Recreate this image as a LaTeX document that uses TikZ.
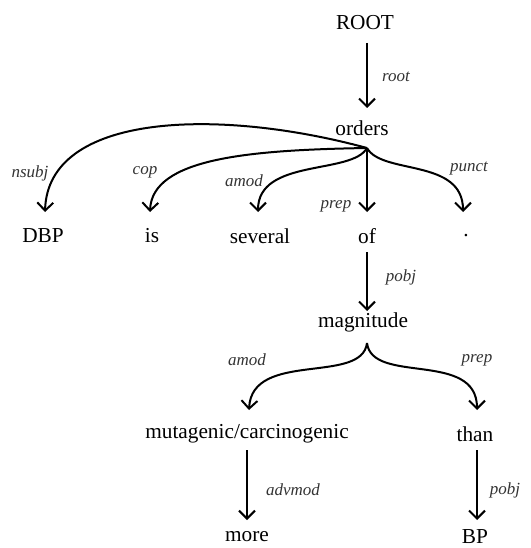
\documentclass[tikz,border=0pt]{standalone}
\usepackage{fontspec}
\setmainfont{Liberation Serif}
\usetikzlibrary{arrows.meta}
\begin{document}
\begin{tikzpicture}[x=1pt,y=-1pt,
  word/.style={font=\fontsize{21.3}{23}\selectfont, inner sep=0pt, anchor=center},
  lab/.style={font=\fontsize{17}{19}\selectfont\itshape, text=black!80, inner sep=0pt},
  dep/.style={line width=2pt, -{Straight Barb[length=8pt,width=16pt,line width=2pt]}},
  hub/.style={line width=2pt}]
\useasboundingbox (0,0) rectangle (530,548);
% words
\node[word] (root) at (365,23) {ROOT};
\node[word] (orders) at (362,128) {orders};
\node[word] (dbp) at (43,236) {DBP};
\node[word] (is) at (152,236) {is};
\node[word] (several) at (260,236) {several};
\node[word] (of) at (367,236) {of};
\node[word] (punct) at (466,236) {.};
\node[word] (magnitude) at (363,322) {magnitude};
\node[word] (mut) at (247,434) {mutagenic/carcinogenic};
\node[word] (than) at (475,434) {than};
\node[word] (more) at (247,537) {more};
\node[word] (bp) at (475,537) {BP};
% hubs and ends
\coordinate (h1) at (367,148);
\coordinate (h2) at (367,343);
\coordinate (t0s) at (367,43);
\coordinate (t0e) at (367,108);
\coordinate (tdbp) at (45,212);
\coordinate (tis) at (150,212);
\coordinate (tsev) at (258,212);
\coordinate (tof) at (367,212);
\coordinate (tpu) at (463,212);
\coordinate (tps) at (367,252);
\coordinate (tpe) at (367,311);
\coordinate (tmut) at (249,410);
\coordinate (tthan) at (477,410);
\coordinate (tas) at (247,450);
\coordinate (tae) at (247,520);
\coordinate (tbs) at (477,450);
\coordinate (tbe) at (477,520);
% connectors
\draw[dep] (t0s) -- (t0e);
\draw[dep] (h1) .. controls (220,108) and (48,112) .. (tdbp);
\draw[dep] (h1) .. controls (250,150) and (152,158) .. (tis);
\draw[dep] (h1) .. controls (352,175) and (258,158) .. (tsev);
\draw[dep] (h1) -- (tof);
\draw[dep] (h1) .. controls (382,175) and (463,158) .. (tpu);
\draw[dep] (tps) -- (tpe);
\draw[dep] (h2) .. controls (362,385) and (252,350) .. (tmut);
\draw[dep] (h2) .. controls (372,385) and (477,350) .. (tthan);
\draw[dep] (tas) -- (tae);
\draw[dep] (tbs) -- (tbe);
% labels
\node[lab] (l0) at (396,77) {root};
\node[lab] (l1) at (30,173) {nsubj};
\node[lab] (l2) at (145,172) {cop};
\node[lab] (l3) at (244,181) {amod};
\node[lab] (l4) at (336,206) {prep};
\node[lab] (l5) at (469,169) {punct};
\node[lab] (l6) at (401,277) {pobj};
\node[lab] (l7) at (247,360) {amod};
\node[lab] (l8) at (477,360) {prep};
\node[lab] (l9) at (293,490) {advmod};
\node[lab] (l10) at (505,490) {pobj};
\end{tikzpicture}
\end{document}
